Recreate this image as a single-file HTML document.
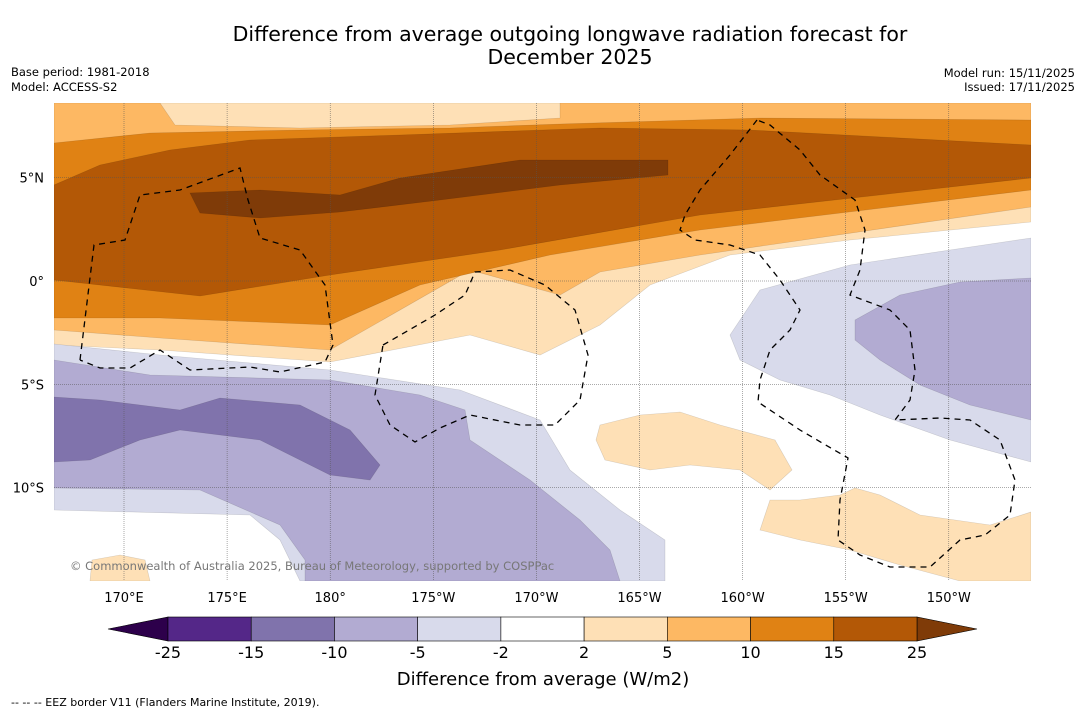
<!DOCTYPE html>
<html><head><meta charset="utf-8"><style>
body{margin:0;background:#fff;width:1085px;height:713px;overflow:hidden;font-family:"DejaVu Sans","Liberation Sans",sans-serif}
svg{position:absolute;left:0;top:0;font-family:"DejaVu Sans","Liberation Sans",sans-serif}
</style></head><body>
<svg id="c" width="1085" height="713" xmlns="http://www.w3.org/2000/svg">
<text x="570" y="41" font-size="20.5" text-anchor="middle">Difference from average outgoing longwave radiation forecast for</text>
<text x="570" y="64" font-size="20.5" text-anchor="middle">December 2025</text>
<text x="11" y="76" font-size="11.5">Base period: 1981-2018</text>
<text x="11" y="91" font-size="11.5">Model: ACCESS-S2</text>
<text x="1075" y="77" font-size="11.5" text-anchor="end">Model run: 15/11/2025</text>
<text x="1075" y="91" font-size="11.5" text-anchor="end">Issued: 17/11/2025</text>
<defs><clipPath id="mc"><rect x="54" y="103" width="977" height="478"/></clipPath></defs>
<g id="map" clip-path="url(#mc)"></g>
<g id="axes"></g>
<g id="cb"></g>
<text x="543" y="685" font-size="18" text-anchor="middle">Difference from average (W/m2)</text>
<text x="11" y="706" font-size="11">--  --  -- EEZ border V11 (Flanders Marine Institute, 2019).</text>
</svg>
<script>
const levels=[-25,-15,-10,-5,-2,2,5,10,15,25];
const levelLabels=["-25","-15","-10","-5","-2","2","5","10","15","25"];
const binColors=["#542788","#8073ac","#b2abd2","#d8daeb","#ffffff","#fee0b6","#fdb863","#e08214","#b35806"];
const lowExtColor="#2d004b", highExtColor="#7f3b08";
const lonTicks=[170,175,180,185,190,195,200,205,210];
const lonLabels=["170°E","175°E","180°","175°W","170°W","165°W","160°W","155°W","150°W"];
const latTicks=[5,0,-5,-10];
const latLabels=["5°N","0°","5°S","10°S"];
const X=lon=>124+(lon-170)*20.62, Y=lat=>281-lat*20.66;
const NS="http://www.w3.org/2000/svg";
function mk(tag,attrs,parent){const e=document.createElementNS(NS,tag);for(const k in attrs)e.setAttribute(k,attrs[k]);parent.appendChild(e);return e;}
const map=document.getElementById('map');
const regions=[
 ["#fee0b6","54,103 1031,103 1031,222 850,240 730,255 650,285 600,325 540,355 470,335 330,362 160,350 54,345"],
 ["#fdb863","54,103 160,103 175,125 300,128 450,125 560,118 560,103 1031,103 1031,107 1031,207 700,255 600,272 560,295 470,270 330,350 160,338 54,330"],
 ["#e08214","54,143 150,133 300,130 450,128 560,124 760,118 1031,120 1031,190 700,230 550,255 420,285 330,325 160,318 54,318"],
 ["#b35806","54,185 100,165 170,150 250,140 400,135 600,128 750,130 1031,145 1031,178 700,215 500,250 330,275 200,296 54,280"],
 ["#7f3b08","190,193 260,190 340,195 400,178 520,160 668,160 668,175 560,185 440,200 340,212 260,218 200,213"],
 ["#d8daeb","54,344 160,355 330,370 460,390 540,420 570,470 620,510 665,540 665,581 300,581 280,540 250,515 54,510"],
 ["#b2abd2","54,360 150,375 330,380 420,395 465,410 470,440 530,480 580,520 610,550 620,581 305,581 305,560 280,525 200,490 54,488"],
 ["#8073ac","54,397 100,400 180,410 220,398 300,405 350,430 380,465 370,480 330,475 260,440 180,430 140,440 90,460 54,462"],
 ["#d8daeb","730,335 760,290 850,265 950,250 1031,238 1031,462 950,440 880,415 830,395 780,380 740,360"],
 ["#b2abd2","855,320 900,295 960,282 1031,278 1031,420 970,405 920,385 880,360 855,340"],
 ["#fee0b6","600,425 640,415 680,412 720,425 775,440 792,470 770,490 740,470 690,465 650,470 605,460 596,440"],
 ["#fee0b6","770,500 800,500 840,495 855,488 880,495 920,515 990,525 1031,512 1031,581 960,581 900,565 850,550 800,540 760,530"],
 ["#fee0b6","92,560 120,555 145,560 150,581 90,581"]
];
regions.forEach((r,i)=>{const p=mk('polygon',{points:r[1],fill:r[0],stroke:"rgba(0,0,0,0.15)","stroke-width":0.6},map);

});
lonTicks.forEach(l=>{const g=mk('line',{x1:X(l),x2:X(l),y1:103,y2:581,stroke:"#555","stroke-width":0.5,"stroke-dasharray":"1,1"},map);

});
latTicks.forEach(l=>{const g=mk('line',{x1:54,x2:1031,y1:Y(l),y2:Y(l),stroke:"#555","stroke-width":0.5,"stroke-dasharray":"1,1"},map);

});
const eez=[
 "80,360 94,245 125,240 140,195 180,190 240,168 248,200 260,238 300,250 325,285 333,345 325,362 280,372 250,367 190,370 175,360 160,350 130,368 100,368 80,360",
 "383,345 435,315 465,295 475,272 510,270 545,285 575,310 588,355 580,400 555,425 520,425 470,415 440,428 415,442 390,425 375,395 383,345",
 "757,120 730,155 700,190 685,215 680,230 695,240 730,245 760,255 780,280 800,310 790,330 770,350 760,380 758,402 800,430 848,458 840,500 838,540 860,555 890,567 930,567 960,540 985,535 1010,515 1015,480 1000,440 970,420 940,418 895,420 910,400 915,370 910,330 890,310 850,295 860,270 865,230 855,200 820,175 800,150 770,125 757,120"
];
eez.forEach(p=>{const e=mk('polyline',{points:p,fill:"none",stroke:"#000","stroke-width":1.3,"stroke-dasharray":"6,5"},map);

});
const cp=mk('text',{x:70,y:570,"font-size":11.5,fill:"#777"},map);cp.textContent="© Commonwealth of Australia 2025, Bureau of Meteorology, supported by COSPPac";


const ax=document.getElementById('axes');
lonTicks.forEach((l,i)=>{const t=mk('text',{x:X(l),y:602,"font-size":13,"text-anchor":"middle"},ax);t.textContent=lonLabels[i];

});
latTicks.forEach((l,i)=>{const t=mk('text',{x:44,y:Y(l)+5,"font-size":13,"text-anchor":"end"},ax);t.textContent=latLabels[i];

});
const cb=document.getElementById('cb');
const cx0=168,cx1=917,cw=(cx1-cx0)/binColors.length,cy=617,ch=24;
const lt=mk('polygon',{points:`108,${cy+ch/2} ${cx0},${cy} ${cx0},${cy+ch}`,fill:lowExtColor,stroke:"#000","stroke-width":0.6},cb);


const ht=mk('polygon',{points:`977,${cy+ch/2} ${cx1},${cy} ${cx1},${cy+ch}`,fill:highExtColor,stroke:"#000","stroke-width":0.6},cb);


binColors.forEach((c,i)=>{const r=mk('rect',{x:cx0+i*cw,y:cy,width:cw,height:ch,fill:c,stroke:"#000","stroke-width":0.6},cb);

});
levels.forEach((v,i)=>{const t=mk('text',{x:cx0+i*cw,y:658,"font-size":16,"text-anchor":"middle"},cb);t.textContent=levelLabels[i];

});
</script>
</body></html>
